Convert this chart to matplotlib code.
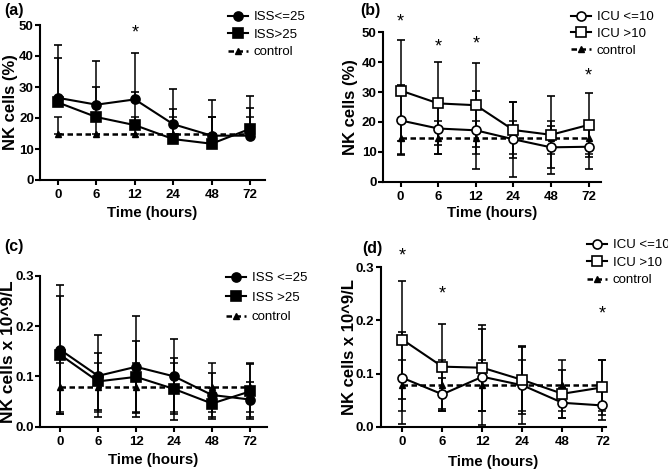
import matplotlib
matplotlib.use("Agg")
import matplotlib.pyplot as plt
from matplotlib.lines import Line2D
import numpy as np

plt.rcParams['font.family'] = ['Liberation Sans', 'DejaVu Sans']

times = ["0", "6", "12", "24", "48", "72"]

# Panel (a): NK cells (%) by ISS (upper error bars only)
a_iss_low = [26.5, 24.3, 26.0, 18.0, 14.3, 14.3]
a_iss_low_up = [17.0, 14.0, 15.0, 11.5, 11.5, 8.9]
a_iss_high = [25.0, 20.3, 17.7, 13.2, 11.7, 16.5]
a_iss_high_up = [14.5, 9.7, 10.8, 9.8, 8.6, 10.7]
a_ctrl = [14.7, 14.7, 14.7, 14.7, 14.7, 14.7]
a_ctrl_up = [5.5, 5.5, 5.5, 5.5, 5.5, 5.5]

# Panel (b): NK cells (%) by ICU stay (symmetric SD)
b_icu_low = [20.5, 17.8, 17.2, 14.2, 11.5, 11.7]
b_icu_low_sd = [11.7, 8.5, 13.0, 12.5, 7.0, 7.5]
b_icu_high = [30.5, 26.2, 25.6, 17.3, 15.7, 19.0]
b_icu_high_sd = [17.0, 13.8, 14.0, 9.5, 13.0, 10.7]
b_ctrl = [14.7, 14.7, 14.7, 14.7, 14.7, 14.7]
b_ctrl_sd = [5.5, 5.5, 5.5, 5.5, 5.5, 5.5]

# Panel (c): NK cells x10^9/L by ISS
c_iss_low = [0.153, 0.101, 0.119, 0.100, 0.063, 0.054]
c_iss_low_sd = [0.128, 0.081, 0.100, 0.074, 0.043, 0.035]
c_iss_high = [0.143, 0.090, 0.099, 0.075, 0.046, 0.070]
c_iss_high_sd = [0.117, 0.057, 0.071, 0.062, 0.030, 0.054]
c_ctrl = [0.078, 0.078, 0.078, 0.078, 0.078, 0.078]
c_ctrl_sd = [0.048, 0.048, 0.048, 0.048, 0.048, 0.048]

# Panel (d): NK cells x10^9/L by ICU stay
d_icu_low = [0.092, 0.061, 0.094, 0.078, 0.045, 0.040]
d_icu_low_sd = [0.087, 0.031, 0.090, 0.072, 0.028, 0.027]
d_icu_high = [0.164, 0.113, 0.111, 0.088, 0.062, 0.074]
d_icu_high_sd = [0.111, 0.080, 0.081, 0.064, 0.045, 0.052]
d_ctrl = [0.078, 0.078, 0.078, 0.078, 0.078, 0.078]
d_ctrl_sd = [0.048, 0.048, 0.048, 0.048, 0.048, 0.048]

# significance stars: (time index, y)
a_stars = [(2, 47.5)]
b_stars = [(0, 53.6), (1, 45.2), (2, 46.0), (5, 35.4)]
d_stars = [(0, 0.321), (1, 0.249), (5, 0.213)]

W, H = 668, 469
fig = plt.figure(figsize=(W / 100, H / 100), dpi=100)


def add_axes(l, r, t, b):
    return fig.add_axes([l / W, 1 - b / H, (r - l) / W, (b - t) / H])


x = np.arange(len(times))
eb_kw = dict(ecolor='black', elinewidth=1.1, capsize=3, capthick=1.1)
MS = 6.5
DASH = (0, (2.2, 1.4))


def draw_series(ax, y, err, marker, filled):
    ax.errorbar(x, y, yerr=err, color='black', lw=1.5, marker=marker, ms=MS,
                mfc='black' if filled else 'white', mec='black', mew=1.2,
                zorder=3, **eb_kw)


def draw_ctrl(ax, y, err):
    ax.errorbar(x, y, yerr=err, color='black', lw=1.8, ls=DASH, marker='^',
                ms=5, mfc='black', mec='black', zorder=2, **eb_kw)


def style(ax, xl, xr, ylim, yticks, ylabel, fmt, ylx, xly, ylfs):
    for s in ['top', 'right']:
        ax.spines[s].set_visible(False)
    for s in ['left', 'bottom']:
        ax.spines[s].set_linewidth(1.5)
    ax.set_xlim(xl, xr)
    ax.set_ylim(*ylim)
    ax.set_xticks(x)
    ax.set_xticklabels(times)
    ax.set_yticks(yticks)
    ax.set_yticklabels([fmt.format(v) for v in yticks])
    ax.tick_params(direction='out', length=3.5, width=1.5, labelsize=9.5)
    ax.tick_params(axis='x', pad=3)
    ax.tick_params(axis='y', pad=1)
    for lab in ax.get_xticklabels() + ax.get_yticklabels():
        lab.set_fontweight('bold')
    ax.set_xlabel('Time (hours)', fontsize=10.8, fontweight='bold')
    ax.set_ylabel(ylabel, fontsize=ylfs, fontweight='bold')
    ax.yaxis.set_label_coords(ylx, 0.5)
    ax.xaxis.set_label_coords(0.5, xly)
    ax.xaxis.label.set_va('center')
    ax.yaxis.label.set_va('center')


def legend(ax, labels, filled, fx, fy, spacing):
    handles = [
        Line2D([], [], color='black', lw=1.5, marker='o', ms=MS,
               mfc='black' if filled else 'white', mec='black', mew=1.2),
        Line2D([], [], color='black', lw=1.5, marker='s', ms=MS,
               mfc='black' if filled else 'white', mec='black', mew=1.2),
        Line2D([], [], color='black', lw=1.8, ls=DASH, marker='^', ms=5,
               mfc='black', mec='black'),
    ]
    ax.legend(handles, labels + ['control'], loc='upper left',
              bbox_to_anchor=(fx / W, 1 - fy / H),
              bbox_transform=fig.transFigure, frameon=False, fontsize=9.5,
              handlelength=1.5, handletextpad=0.45, labelspacing=spacing,
              borderaxespad=0, borderpad=0)


def stars(ax, pts):
    for i, yv in pts:
        ax.text(x[i], yv, '*', ha='center', va='center', fontsize=13)


# (a)
ax = add_axes(40, 265, 25, 180)
z = np.zeros(6)
draw_series(ax, a_iss_low, [z, a_iss_low_up], 'o', True)
draw_series(ax, a_iss_high, [z, a_iss_high_up], 's', True)
draw_ctrl(ax, a_ctrl, [z, a_ctrl_up])
style(ax, -0.47, 5.39, (0, 50), [0, 10, 20, 30, 40, 50], 'NK cells (%)', '{:.0f}',
      -0.13, -0.213, 12)
stars(ax, a_stars)
legend(ax, ['ISS<=25', 'ISS>25'], True, 228, 11, 0.4)
fig.text(4 / W, 1 - 11 / H, '(a)', fontsize=11.5, fontweight='bold', va='center')

# (b)
ax = add_axes(383, 601, 32.3, 181.7)
draw_series(ax, b_icu_low, b_icu_low_sd, 'o', False)
draw_series(ax, b_icu_high, b_icu_high_sd, 's', False)
draw_ctrl(ax, b_ctrl, b_ctrl_sd)
style(ax, -0.47, 5.33, (0, 50), [0, 10, 20, 30, 40, 50], 'NK cells (%)', '{:.0f}',
      -0.15, -0.212, 12)
stars(ax, b_stars)
legend(ax, ['ICU <=10', 'ICU >10'], False, 571, 11, 0.35)
fig.text(360 / W, 1 - 11 / H, '(b)', fontsize=11.5, fontweight='bold', va='center')

# (c)
ax = add_axes(40, 267, 275.7, 426.7)
draw_series(ax, c_iss_low, c_iss_low_sd, 'o', True)
draw_series(ax, c_iss_high, c_iss_high_sd, 's', True)
draw_ctrl(ax, c_ctrl, c_ctrl_sd)
style(ax, -0.53, 5.45, (0, 0.3), [0.0, 0.1, 0.2, 0.3], 'NK cells x 10^9/L', '{:.1f}',
      -0.138, -0.22, 12.5)
legend(ax, ['ISS <=25', 'ISS >25'], True, 226, 272, 0.55)
fig.text(4 / W, 1 - 247 / H, '(c)', fontsize=11.5, fontweight='bold', va='center')

# (d)
ax = add_axes(380.7, 605.7, 267.3, 426.7)
draw_series(ax, d_icu_low, d_icu_low_sd, 'o', False)
draw_series(ax, d_icu_high, d_icu_high_sd, 's', False)
draw_ctrl(ax, d_ctrl, d_ctrl_sd)
style(ax, -0.54, 5.08, (0, 0.3), [0.0, 0.1, 0.2, 0.3], 'NK cells x 10^9/L', '{:.1f}',
      -0.14, -0.22, 12)
stars(ax, d_stars)
legend(ax, ['ICU <=10', 'ICU >10'], False, 587, 239, 0.4)
fig.text(362 / W, 1 - 248 / H, '(d)', fontsize=11.5, fontweight='bold', va='center')

for a_ in fig.axes:
    for child in a_.get_children():
        try:
            child.set_clip_on(False)
        except Exception:
            pass

fig.savefig('out.png', dpi=100)
